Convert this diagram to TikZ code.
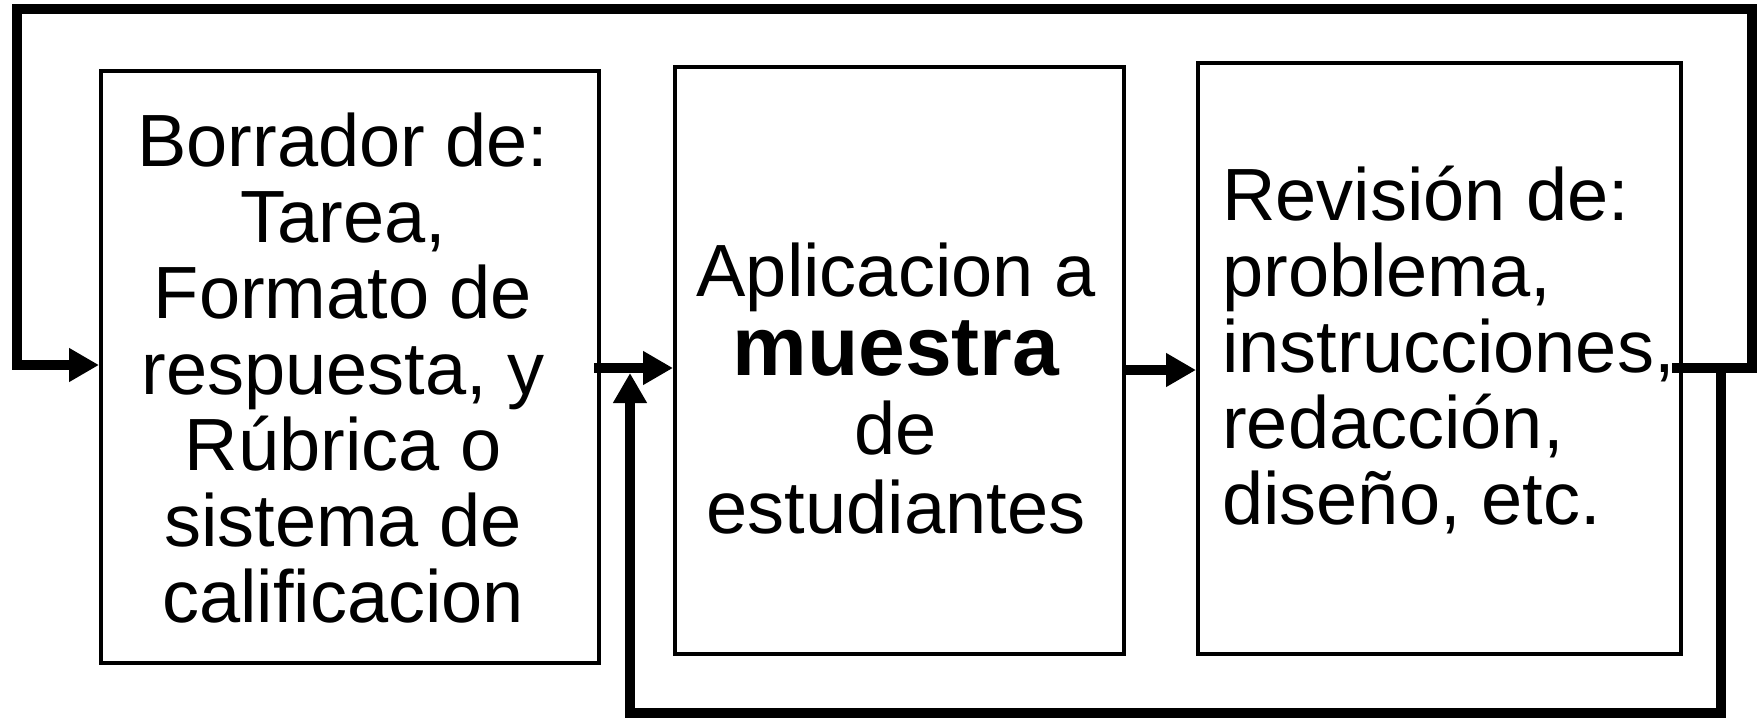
\documentclass[tikz,border=0pt]{standalone}
\usepackage{fontspec}
\setmainfont{Liberation Sans}
\usetikzlibrary{arrows.meta}
\begin{document}
\begin{tikzpicture}[x=1pt,y=-1pt,
  box/.style={draw,line width=4pt,inner sep=0pt},
  lbl/.style={font=\fontsize{74}{76}\selectfont,inner sep=0pt},
  conn/.style={line width=10pt,line join=miter},
  arr/.style={conn,-{Triangle[length=30pt,width=32pt]}}]
\useasboundingbox (0,0) rectangle (1761,718);
% boxes
\node[box,minimum width=498pt,minimum height=592pt] (b1) at (350,367) {};
\node[box,minimum width=449pt,minimum height=587pt] (b2) at (899.5,360.5) {};
\node[box,minimum width=483pt,minimum height=591pt] (b3) at (1439.5,358.5) {};
% texts
\node[lbl,align=center] (t1) at (343,368) {Borrador de:\\Tarea,\\Formato de\\respuesta, y\\Rúbrica o\\sistema de\\calificacion};
\node[lbl,align=center,font=\fontsize{74}{79}\selectfont] (t2) at (896,389) {Aplicacion a\\{\fontsize{84}{79}\selectfont\textbf{muestra}}\\de\\estudiantes};
\node[lbl,align=left,anchor=west] (t3) at (1222,350) {Revisión de:\\problema,\\instrucciones,\\redacción,\\diseño, etc.};
% helper coordinates
\coordinate (m) at (0,368);
\coordinate (m2) at (0,370);
\coordinate (ml) at (0,365);
\coordinate (tr) at (1752,9);
\coordinate (tl) at (17,9);
\coordinate (rd) at (1721,368);
\coordinate (bt) at (630,713);
\coordinate (up) at (630,373);
% connectors
\draw[arr] ([xshift=-7pt]b1.east |- m) -- (b2.west |- m);
\draw[arr] (b2.east |- m2) -- (b3.west |- m2);
\draw[arr,line cap=rect] ([xshift=-6pt]b3.east |- m) -- (tr |- m) -- (tr) -- (tl) -- (tl |- ml) -- (b1.west |- ml);
\draw[arr,line cap=rect] (rd) -- (rd |- bt) -- (bt) -- (up);
\end{tikzpicture}
\end{document}
